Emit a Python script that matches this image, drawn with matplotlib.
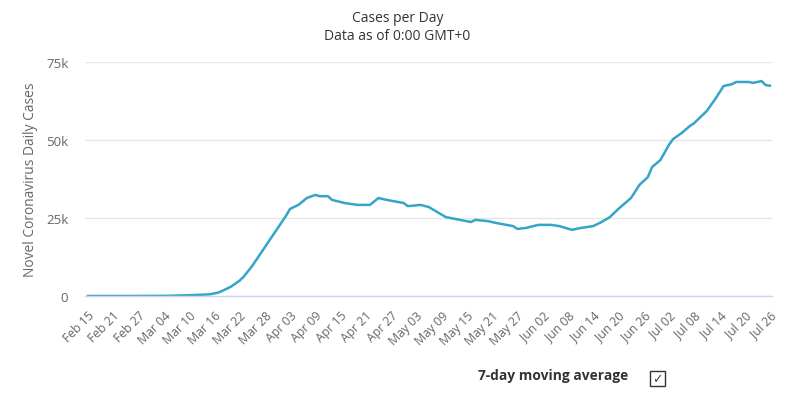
import datetime as dt
import matplotlib
matplotlib.use("Agg")
import matplotlib.pyplot as plt
import matplotlib.dates as mdates
from matplotlib.patches import Rectangle
from matplotlib.ticker import FuncFormatter

plt.rcParams["font.family"] = ["Open Sans", "DejaVu Sans"]

# 7-day moving average of daily cases (2020)
dates = [
    "2020-02-15", "2020-02-25", "2020-03-05", "2020-03-10", "2020-03-13",
    "2020-03-15", "2020-03-17", "2020-03-18", "2020-03-20", "2020-03-22",
    "2020-03-23", "2020-03-25",
    "2020-03-27", "2020-03-29", "2020-03-31", "2020-04-02", "2020-04-03",
    "2020-04-05", "2020-04-07", "2020-04-09", "2020-04-10", "2020-04-12",
    "2020-04-13", "2020-04-16", "2020-04-19", "2020-04-22", "2020-04-24",
    "2020-04-26", "2020-04-30", "2020-05-01", "2020-05-04", "2020-05-06",
    "2020-05-10", "2020-05-16", "2020-05-17", "2020-05-20", "2020-05-22",
    "2020-05-26", "2020-05-27", "2020-05-29", "2020-06-01", "2020-06-04",
    "2020-06-06", "2020-06-09", "2020-06-11", "2020-06-14", "2020-06-16",
    "2020-06-18", "2020-06-20", "2020-06-23", "2020-06-25", "2020-06-27",
    "2020-06-28", "2020-06-30", "2020-07-02", "2020-07-03", "2020-07-05",
    "2020-07-07", "2020-07-08", "2020-07-11", "2020-07-13", "2020-07-15",
    "2020-07-17", "2020-07-18", "2020-07-19", "2020-07-21", "2020-07-22",
    "2020-07-24", "2020-07-25", "2020-07-26",
]
cases = [
    0, 5, 60, 250, 400,
    550, 1100, 1700, 3000, 4900,
    6200, 9600,
    13600, 17600, 21600, 25600, 27900,
    29200, 31400, 32400, 32000, 32000,
    30800, 29800, 29200, 29200, 31400,
    30800, 29800, 28800, 29200, 28500,
    25300, 23700, 24400, 24000, 23400,
    22400, 21500, 21800, 22800, 22800,
    22400, 21200, 21800, 22400, 23700,
    25300, 27900, 31400, 35600, 38100,
    41300, 43600, 48400, 50300, 52200,
    54500, 55400, 59300, 63100, 67300,
    67900, 68600, 68600, 68600, 68300,
    68900, 67600, 67400,
]
y_ticks = [0, 25000, 50000, 75000]

x = [dt.datetime.strptime(d, "%Y-%m-%d") for d in dates]
start = dt.datetime(2020, 2, 15)
end = dt.datetime(2020, 7, 26)

fig = plt.figure(figsize=(7.95, 4.06), dpi=100)
ax = fig.add_axes([85 / 795, 1 - 297 / 406, (772 - 85) / 795, (297 - 63) / 406])

ax.plot(x, cases, color="#35a4c9", lw=1.8, solid_joinstyle="round")

ax.set_xlim(start - dt.timedelta(days=0.7), end + dt.timedelta(days=0.5))
ax.set_ylim(0, 75000)

# grid and spines
ax.set_yticks(y_ticks)
ax.yaxis.set_major_formatter(FuncFormatter(lambda v, p: "0" if v == 0 else f"{int(v / 1000)}k"))
ax.grid(axis="y", color="#e6e6e6", lw=1)
ax.set_axisbelow(True)
for s in ["top", "right", "left"]:
    ax.spines[s].set_visible(False)
ax.spines["bottom"].set_color("#ccd6eb")
ax.spines["bottom"].set_linewidth(1)

ticks = [start + dt.timedelta(days=6 * i) for i in range(28)]
ax.set_xticks(ticks)
ax.xaxis.set_major_formatter(mdates.DateFormatter("%b %d"))
ax.tick_params(axis="x", length=0, pad=9, labelsize=8.8, labelcolor="#666666")
ax.tick_params(axis="y", length=0, pad=12, labelsize=9.5, labelcolor="#666666")
for lab in ax.get_xticklabels():
    lab.set_rotation(45)
    lab.set_ha("right")
    lab.set_va("top")
    lab.set_rotation_mode("anchor")

ax.set_ylabel("Novel Coronavirus Daily Cases", fontsize=9.9, color="#666666", labelpad=6)

fig.text(0.5, 1 - 18 / 406, "Cases per Day", ha="center", va="center", fontsize=10, color="#333333")
fig.text(0.5, 1 - 36 / 406, "Data as of 0:00 GMT+0", ha="center", va="center", fontsize=10, color="#333333")

# legend-like toggle below the chart
fig.text(628 / 795, 1 - 376 / 406, "7-day moving average", ha="right", va="center",
         fontsize=9.9, fontweight="bold", color="#333333")
fig.add_artist(Rectangle((650 / 795, 1 - 387 / 406), 15 / 795, 15 / 406,
                         transform=fig.transFigure, fill=False, ec="#333333", lw=1))
fig.text(657.5 / 795, 1 - 379.5 / 406, "\u2713", ha="center", va="center",
         fontsize=9, color="#444444", family="DejaVu Sans")

fig.savefig("out.png", dpi=100)
